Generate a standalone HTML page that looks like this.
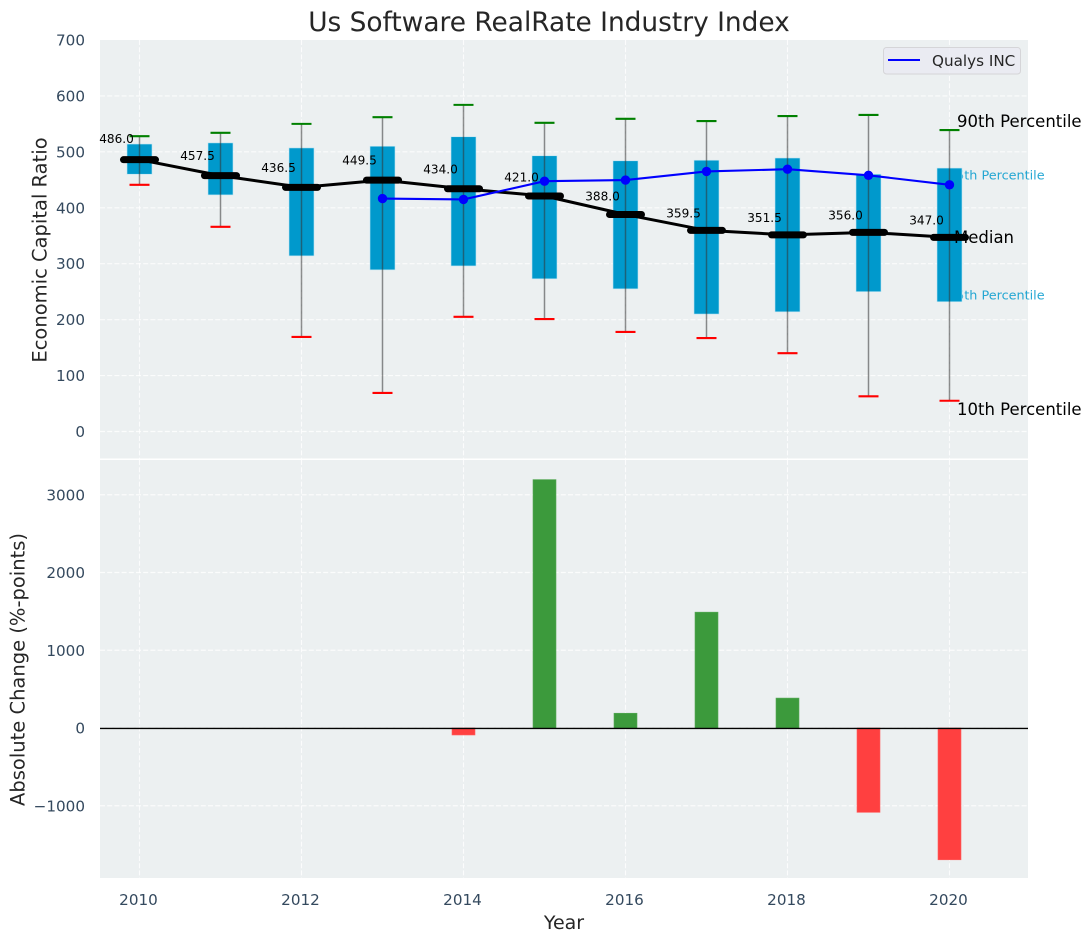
<!DOCTYPE html>
<html lang="en">
<head>
<meta charset="utf-8">
<title>Us Software RealRate Industry Index</title>
<style>
html,body{margin:0;padding:0;background:#fff;width:1092px;height:942px;overflow:hidden}
svg{display:block}
text{font-family:"DejaVu Sans","Liberation Sans",sans-serif}
</style>
</head>
<body>
<svg id="chart" xmlns="http://www.w3.org/2000/svg" width="1092" height="942" viewBox="0 0 1092 942"></svg>
<script>
const years = [2010, 2011, 2012, 2013, 2014, 2015, 2016, 2017, 2018, 2019, 2020];
const p10 = [441, 366, 169, 69, 205, 201, 178, 167, 140, 63, 55];
const p25 = [460, 423, 314, 289, 296, 273, 255, 210, 214, 250, 232];
const medians = [486.0, 457.5, 436.5, 449.5, 434.0, 421.0, 388.0, 359.5, 351.5, 356.0, 347.0];
const p75 = [514, 516, 507, 510, 527, 493, 484, 485, 489, 460, 471];
const p90 = [528, 534, 550, 562, 584, 552, 559, 555, 564, 566, 539];
const qualysYears = [2013, 2014, 2015, 2016, 2017, 2018, 2019, 2020];
const qualys = [416.5, 415, 447.5, 449.5, 465, 469, 458, 441];
const changeYears = [2014, 2015, 2016, 2017, 2018, 2019, 2020];
const changes = [-90, 3195, 190, 1490, 385, -1085, -1695];
const xTicks = [2010, 2012, 2014, 2016, 2018, 2020];
const topTicks = [0, 100, 200, 300, 400, 500, 600, 700];
const bottomTicks = [-1000, 0, 1000, 2000, 3000];

const svg = document.getElementById('chart');
const NS = 'http://www.w3.org/2000/svg';
const L = 100, R = 1028, T1 = 40, B1 = 458.5, T2 = 460, B2 = 878;
const x = v => 139.5 + (v - 2010) * 81;
const y1 = v => 431.5 - v * 0.5593;
const y2 = v => 728 - v * 0.07775;

function mk(tag, attrs, parent, txt) {
  const e = document.createElementNS(NS, tag);
  for (const k in attrs) e.setAttribute(k, attrs[k]);
  if (txt !== undefined) e.textContent = txt;
  (parent || svg).appendChild(e);
  return e;
}
function group(name) {
  const g = document.createElementNS(NS, 'g');
  
  
  svg.appendChild(g);
  return g;
}
const TICK = '#34495e', LABEL = '#262626', GRID = '#ffffff';

/* Backgrounds */
const bgTop = mk('rect', {x: L, y: T1, width: R - L, height: B1 - T1, fill: '#ecf0f1'});


const bgBottom = mk('rect', {x: L, y: T2, width: R - L, height: B2 - T2, fill: '#ecf0f1'});



/* Grid */
const gridG = group('grid-lines');
const dash = {stroke: GRID, 'stroke-width': 1.15, 'stroke-dasharray': '5 2.2', 'stroke-opacity': 0.8};
xTicks.forEach(t => {
  mk('line', {x1: x(t), x2: x(t), y1: T1, y2: B1, ...dash}, gridG);
  mk('line', {x1: x(t), x2: x(t), y1: T2, y2: B2, ...dash}, gridG);
});
topTicks.forEach(t => {
  if (t === 700) return;
  mk('line', {x1: L, x2: R, y1: y1(t), y2: y1(t), ...dash}, gridG);
});
bottomTicks.forEach(t => {
  mk('line', {x1: L, x2: R, y1: y2(t), y2: y2(t), ...dash}, gridG);
});

/* Tick labels */
const tickG = group('tick-labels');
topTicks.forEach(t => {
  const e = mk('text', {x: 85, y: y1(t) + 5.5, 'text-anchor': 'end', 'font-size': 15.2, fill: TICK}, tickG, String(t));
  
  
});
bottomTicks.forEach(t => {
  const e = mk('text', {x: 85, y: y2(t) + 5.5, 'text-anchor': 'end', 'font-size': 15.2, fill: TICK}, tickG, String(t).replace('-', '\u2212'));
  
  
});
xTicks.forEach(t => {
  const e = mk('text', {x: x(t) - 1, y: 905, 'text-anchor': 'middle', 'font-size': 15.2, fill: TICK}, tickG, String(t));
  
  
});

/* Percentile text behind the boxes */
const lab75 = mk('text', {x: 948, y: 179.5, 'font-size': 12.8, fill: '#0099cc', 'fill-opacity': 0.85}, svg, '75th Percentile');


const lab25 = mk('text', {x: 948, y: 299.5, 'font-size': 12.8, fill: '#0099cc', 'fill-opacity': 0.85}, svg, '25th Percentile');



/* Boxes */
const boxW = 25;
const boxG = group('percentile-boxes');
years.forEach((yr, i) => {
  const r = mk('rect', {x: x(yr) - boxW / 2, y: y1(p75[i]), width: boxW, height: y1(p25[i]) - y1(p75[i]), fill: '#0099cc', stroke: '#bfe5f2', 'stroke-width': 0.6}, boxG);
  
  
});

/* Whiskers */
const whiskG = group('whiskers');
years.forEach((yr, i) => {
  mk('line', {x1: x(yr), x2: x(yr), y1: y1(p90[i]), y2: y1(p10[i]), stroke: '#333', 'stroke-opacity': 0.55, 'stroke-width': 1.5}, whiskG);
  mk('line', {x1: x(yr) - 10, x2: x(yr) + 10, y1: y1(p90[i]), y2: y1(p90[i]), stroke: '#008000', 'stroke-width': 2.1}, whiskG);
  mk('line', {x1: x(yr) - 10, x2: x(yr) + 10, y1: y1(p10[i]), y2: y1(p10[i]), stroke: '#ff0000', 'stroke-width': 2.1}, whiskG);
});

/* Median line */
const medG = group('median-series');
const medLine = mk('polyline', {points: years.map((yr, i) => x(yr) + ',' + y1(medians[i])).join(' '), fill: 'none', stroke: '#000', 'stroke-width': 3}, medG);


years.forEach((yr, i) => {
  const m = mk('line', {x1: x(yr) - 16, x2: x(yr) + 16, y1: y1(medians[i]), y2: y1(medians[i]), stroke: '#000', 'stroke-width': 7, 'stroke-linecap': 'round'}, medG);
  
  
  const t = mk('text', {x: x(yr) - 23, y: y1(medians[i] * 1.05) - 3, 'text-anchor': 'middle', 'font-size': 12.1, fill: '#000'}, medG, medians[i].toFixed(1));
  
  
});

/* Qualys line */
const qG = group('qualys-series');
const qLine = mk('polyline', {points: qualysYears.map((yr, i) => x(yr) + ',' + y1(qualys[i])).join(' '), fill: 'none', stroke: '#0000ff', 'stroke-width': 2.1}, qG);


qualysYears.forEach((yr, i) => {
  const c = mk('circle', {cx: x(yr), cy: y1(qualys[i]), r: 4.7, fill: '#0000ff'}, qG);
  
  
});

/* Black annotations */
const a90 = mk('text', {x: 957, y: 127, 'font-size': 16.5, fill: '#000'}, svg, '90th Percentile');


const a10 = mk('text', {x: 957, y: 415, 'font-size': 16.5, fill: '#000'}, svg, '10th Percentile');


const aMed = mk('text', {x: 954, y: 243, 'font-size': 16.5, fill: '#000'}, svg, 'Median');



/* Change bars */
const barW = 23;
const barG = group('absolute-change-bars');
changeYears.forEach((yr, i) => {
  const v = changes[i];
  const top = Math.min(y2(v), y2(0));
  const b = mk('rect', {x: x(yr) - barW / 2, y: top, width: barW, height: Math.abs(y2(v) - y2(0)), fill: v >= 0 ? '#3c9a3c' : '#ff4040', stroke: v >= 0 ? '#57a957' : '#ff5f5f', 'stroke-width': 0.6}, barG);
  
  
});
const zero = mk('line', {x1: L, x2: R, y1: y2(0) + 0.4, y2: y2(0) + 0.4, stroke: '#000', 'stroke-width': 1.4});



/* Titles */
const title = mk('text', {x: 549, y: 31, 'text-anchor': 'middle', 'font-size': 26.4, fill: LABEL}, svg, 'Us Software RealRate Industry Index');


const yt1 = mk('text', {transform: 'translate(46.5,250) rotate(-90)', 'text-anchor': 'middle', 'font-size': 19.5, fill: LABEL}, svg, 'Economic Capital Ratio');


const yt2 = mk('text', {transform: 'translate(24.5,669.5) rotate(-90)', 'text-anchor': 'middle', 'font-size': 19.5, fill: LABEL}, svg, 'Absolute Change (%-points)');


const xt = mk('text', {x: 564, y: 929, 'text-anchor': 'middle', 'font-size': 19, fill: LABEL}, svg, 'Year');



/* Legend */
const legG = group('legend');
const lb = mk('rect', {x: 883.5, y: 47.5, width: 137, height: 26.5, rx: 3, fill: '#eaeaf2', 'fill-opacity': 0.85, stroke: '#d5d5d8', 'stroke-width': 1}, legG);


const ll = mk('line', {x1: 888, x2: 920, y1: 60, y2: 60, stroke: '#0000ff', 'stroke-width': 2.1}, legG);


const lt = mk('text', {x: 932, y: 66, 'font-size': 15.2, fill: LABEL}, legG, 'Qualys INC');


</script>
</body>
</html>
